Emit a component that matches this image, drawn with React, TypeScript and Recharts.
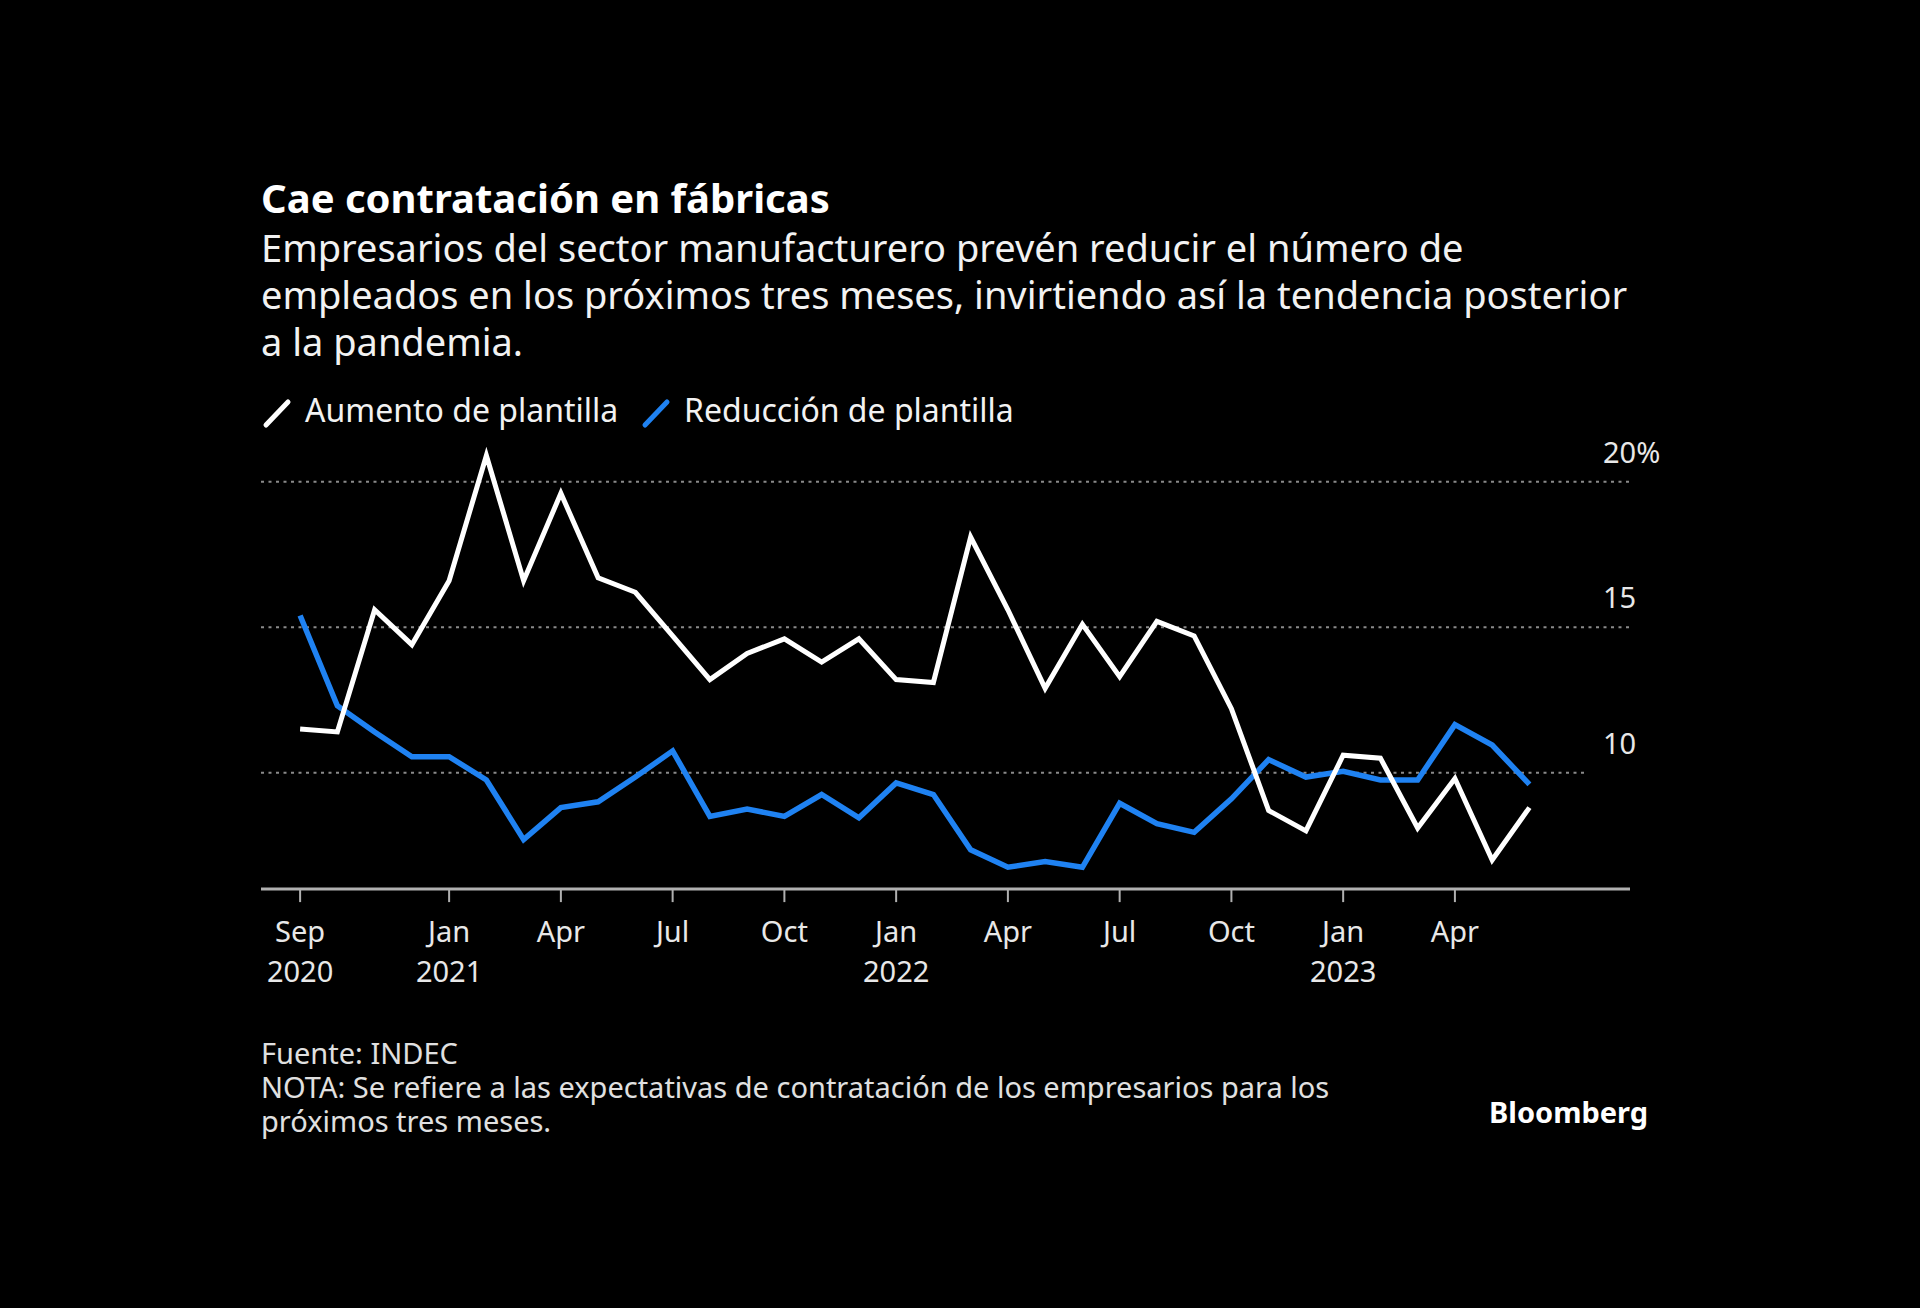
import { LineChart, Line, XAxis, YAxis, ReferenceLine } from "recharts";

const FONT = "'Noto Sans', sans-serif";
const BLUE = "#1f82f2";

// monthly, Sep 2020 - Jun 2023
const months = [
  "2020-09", "2020-10", "2020-11", "2020-12",
  "2021-01", "2021-02", "2021-03", "2021-04", "2021-05", "2021-06",
  "2021-07", "2021-08", "2021-09", "2021-10", "2021-11", "2021-12",
  "2022-01", "2022-02", "2022-03", "2022-04", "2022-05", "2022-06",
  "2022-07", "2022-08", "2022-09", "2022-10", "2022-11", "2022-12",
  "2023-01", "2023-02", "2023-03", "2023-04", "2023-05", "2023-06",
];

const aumento = [
  11.5, 11.4, 15.6, 14.4,
  16.6, 20.9, 16.6, 19.6, 16.7, 16.2,
  14.7, 13.2, 14.1, 14.6, 13.8, 14.6,
  13.2, 13.1, 18.1, 15.6, 12.9, 15.1,
  13.3, 15.2, 14.7, 12.2, 8.7, 8.0,
  10.6, 10.5, 8.1, 9.8, 7.0, 8.8,
];

const reduccion = [
  15.4, 12.3, 11.4, 10.55,
  10.55, 9.75, 7.7, 8.8, 9.0, 9.85,
  10.75, 8.5, 8.75, 8.5, 9.25, 8.45,
  9.65, 9.25, 7.35, 6.75, 6.95, 6.75,
  8.95, 8.25, 7.95, 9.1, 10.45, 9.85,
  10.05, 9.75, 9.75, 11.65, 10.95, 9.6,
];

const tickIndex = [0, 4, 7, 10, 13, 16, 19, 22, 25, 28, 31];
const tickMonth = ["Sep", "Jan", "Apr", "Jul", "Oct", "Jan", "Apr", "Jul", "Oct", "Jan", "Apr"];
const tickYear = ["2020", "2021", "", "", "", "2022", "", "", "", "2023", ""];
const yTicks = [10, 15, 20];

const title = "Cae contratación en fábricas";
const subtitle = [
  "Empresarios del sector manufacturero prevén reducir el número de",
  "empleados en los próximos tres meses, invirtiendo así la tendencia posterior",
  "a la pandemia.",
];
const notes = [
  "Fuente: INDEC",
  "NOTA: Se refiere a las expectativas de contratación de los empresarios para los",
  "próximos tres meses.",
];

const data = months.map((m, i) => ({
  i,
  month: m,
  aumento: aumento[i],
  reduccion: reduccion[i],
}));

// layout
const W = 1920;
const H = 1308;
const PLOT_LEFT = 261;
const PLOT_RIGHT = 1630;
const PLOT_TOP = 452.6;
const PLOT_BOTTOM = 889.1;
const X_AXIS_H = 60;
const Y_AXIS_W = 60;
const X_MIN = -1.05;
const X_MAX = 35.7;

const XTick = (props: any) => {
  const { x, y, payload } = props;
  const k = tickIndex.indexOf(payload.value);
  return (
    <text textAnchor="middle" fill="#e8e8e8" fontSize={29} fontFamily={FONT}>
      <tspan x={x} y={y + 38}>{tickMonth[k]}</tspan>
      {tickYear[k] ? <tspan x={x} y={y + 78}>{tickYear[k]}</tspan> : null}
    </text>
  );
};

const YTick = (props: any) => {
  const { y, payload } = props;
  const label = payload.value === 20 ? "20%" : String(payload.value);
  return (
    <text x={PLOT_RIGHT - 27} y={y - 19} fill="#e8e8e8" fontSize={29} fontFamily={FONT} textAnchor="start">
      {label}
    </text>
  );
};

const gridEnd = (v: number) => (v === 10 ? 34.5 : X_MAX);

export default function App() {
  return (
    <div
      style={{
        position: "fixed",
        left: 0,
        top: 0,
        width: W,
        height: H,
        background: "#000",
        overflow: "hidden",
      }}
    >
      <div style={{ position: "absolute", left: 0, top: 0 }}>
        <LineChart
          width={W}
          height={H}
          data={data}
          margin={{
            top: PLOT_TOP,
            left: PLOT_LEFT,
            right: W - PLOT_RIGHT - Y_AXIS_W,
            bottom: H - PLOT_BOTTOM - X_AXIS_H,
          }}
        >
          <XAxis
            type="number"
            dataKey="i"
            domain={[X_MIN, X_MAX]}
            allowDataOverflow
            ticks={tickIndex}
            interval={0}
            height={X_AXIS_H}
            axisLine={{ stroke: "#b0b0b0", strokeWidth: 3 }}
            tickLine={{ stroke: "#b0b0b0", strokeWidth: 2 }}
            tickSize={13}
            tick={<XTick />}
          />
          <YAxis
            orientation="right"
            type="number"
            domain={[6, 21]}
            ticks={yTicks}
            interval={0}
            width={Y_AXIS_W}
            axisLine={false}
            tickLine={false}
            tick={<YTick />}
          />
          {yTicks.map((v) => (
            <ReferenceLine
              key={v}
              segment={[
                { x: X_MIN, y: v },
                { x: gridEnd(v), y: v },
              ]}
              stroke="#8a8a8a"
              strokeWidth={2}
              strokeDasharray="3 4.5"
            />
          ))}
          <Line
            type="linear"
            dataKey="reduccion"
            stroke={BLUE}
            strokeWidth={5.5}
            dot={false}
            isAnimationActive={false}
          />
          <Line
            type="linear"
            dataKey="aumento"
            stroke="#ffffff"
            strokeWidth={5}
            dot={false}
            isAnimationActive={false}
          />
        </LineChart>
      </div>
      <svg
        width={W}
        height={H}
        style={{ position: "absolute", left: 0, top: 0, pointerEvents: "none" }}
        fontFamily={FONT}
      >
        <text x={261} y={213} fill="#fff" fontSize={40} fontWeight={700}>
          {title}
        </text>
        {subtitle.map((s, k) => (
          <text key={s} x={261} y={262 + k * 47} fill="#f2f2f2" fontSize={38}>
            {s}
          </text>
        ))}
        <line x1={266} y1={425} x2={288} y2={402} stroke="#fff" strokeWidth={5} strokeLinecap="round" />
        <text x={305} y={422} fill="#f2f2f2" fontSize={32}>
          Aumento de plantilla
        </text>
        <line x1={645} y1={425} x2={667} y2={402} stroke={BLUE} strokeWidth={5} strokeLinecap="round" />
        <text x={684} y={422} fill="#f2f2f2" fontSize={32}>
          Reducción de plantilla
        </text>
        {notes.map((s, k) => (
          <text key={s} x={261} y={1063.5 + k * 34} fill="#e0e0e0" fontSize={29}>
            {s}
          </text>
        ))}
        <text x={1489} y={1123} fill="#fff" fontSize={29} fontWeight={700}>
          Bloomberg
        </text>
      </svg>
    </div>
  );
}
